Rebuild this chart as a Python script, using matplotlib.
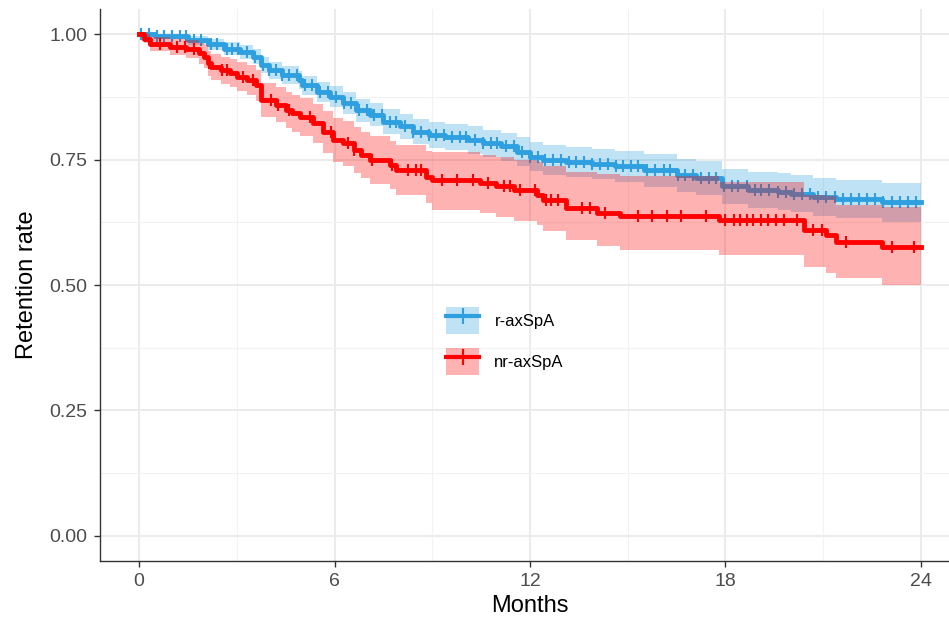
import matplotlib.pyplot as plt
from matplotlib.patches import Patch
from matplotlib.lines import Line2D
import numpy as np

plt.rcParams['font.family'] = ['Liberation Sans', 'DejaVu Sans']

# Kaplan-Meier steps: time of drop, survival, lower CI, upper CI
r_time = [0, 0.5, 1.5, 2.1, 2.6, 3.1, 3.5, 3.75, 4.0, 4.4, 4.9, 5.0, 5.45, 5.85, 6.25, 6.65,
          7.1, 7.5, 8.0, 8.4, 8.9, 9.4, 10.1, 10.55, 11.1, 11.6, 12.0, 12.4, 13.1, 13.9, 14.6,
          15.5, 16.5, 17.1, 17.9, 18.7, 19.6, 20.0, 20.7, 21.4, 22.8, 24.0]
r_surv = [1.000, 0.996, 0.988, 0.980, 0.971, 0.965, 0.955, 0.938, 0.928, 0.918, 0.908, 0.898,
          0.885, 0.875, 0.862, 0.848, 0.839, 0.825, 0.816, 0.805, 0.799, 0.795, 0.789, 0.782,
          0.776, 0.766, 0.756, 0.749, 0.746, 0.742, 0.737, 0.729, 0.719, 0.713, 0.697, 0.690,
          0.686, 0.682, 0.675, 0.671, 0.665, 0.665]
r_lower = [1.000, 0.990, 0.979, 0.969, 0.958, 0.951, 0.940, 0.922, 0.911, 0.900, 0.890, 0.879,
           0.865, 0.854, 0.840, 0.825, 0.816, 0.801, 0.791, 0.780, 0.773, 0.769, 0.762, 0.755,
           0.748, 0.738, 0.728, 0.720, 0.716, 0.711, 0.705, 0.696, 0.685, 0.679, 0.662, 0.654,
           0.649, 0.645, 0.637, 0.633, 0.626, 0.626]
r_upper = [1.000, 1.000, 0.997, 0.991, 0.984, 0.979, 0.970, 0.955, 0.945, 0.936, 0.926, 0.917,
           0.905, 0.896, 0.884, 0.871, 0.863, 0.850, 0.841, 0.831, 0.825, 0.821, 0.816, 0.809,
           0.803, 0.794, 0.785, 0.778, 0.775, 0.772, 0.768, 0.761, 0.752, 0.747, 0.732, 0.726,
           0.723, 0.719, 0.713, 0.709, 0.704, 0.704]

nr_time = [0, 0.15, 0.35, 0.95, 1.45, 1.85, 2.0, 2.1, 2.2, 2.5, 2.8, 3.0, 3.3, 3.6, 3.75, 4.2,
           4.5, 4.7, 4.95, 5.35, 5.65, 5.95, 6.25, 6.6, 6.8, 7.1, 7.7, 7.9, 8.8, 9.0, 10.45,
           10.95, 11.5, 12.2, 12.4, 13.1, 14.05, 14.75, 17.8, 20.4, 21.1, 21.4, 22.8, 24.0]
nr_surv = [1.000, 0.991, 0.981, 0.975, 0.971, 0.962, 0.955, 0.942, 0.935, 0.928, 0.922, 0.915,
           0.908, 0.898, 0.868, 0.859, 0.848, 0.842, 0.835, 0.822, 0.805, 0.789, 0.782, 0.769,
           0.759, 0.749, 0.739, 0.729, 0.716, 0.709, 0.703, 0.697, 0.689, 0.679, 0.669, 0.653,
           0.644, 0.637, 0.629, 0.610, 0.600, 0.586, 0.576, 0.576]
nr_lower = [1.000, 0.982, 0.967, 0.958, 0.953, 0.941, 0.932, 0.917, 0.909, 0.901, 0.894, 0.886,
            0.878, 0.867, 0.834, 0.824, 0.812, 0.805, 0.797, 0.783, 0.764, 0.746, 0.738, 0.724,
            0.713, 0.702, 0.691, 0.680, 0.664, 0.650, 0.643, 0.636, 0.628, 0.620, 0.608, 0.590,
            0.578, 0.570, 0.560, 0.536, 0.524, 0.514, 0.500, 0.500]
nr_upper = [1.000, 1.000, 0.995, 0.991, 0.989, 0.983, 0.978, 0.967, 0.961, 0.955, 0.950, 0.944,
            0.938, 0.929, 0.902, 0.894, 0.884, 0.879, 0.873, 0.861, 0.846, 0.832, 0.826, 0.814,
            0.805, 0.796, 0.787, 0.778, 0.768, 0.765, 0.760, 0.755, 0.750, 0.745, 0.737, 0.725,
            0.722, 0.718, 0.705, 0.680, 0.678, 0.660, 0.655, 0.655]

# censoring times (tick marks)
r_cens = [0.05, 0.3, 0.55, 0.75, 1.0, 1.25, 1.45, 1.7, 1.9, 2.2, 2.4, 2.7, 2.85, 3.05, 3.3,
          3.55, 3.8, 4.0, 4.2, 4.4, 4.6, 4.85, 5.1, 5.3, 5.55, 5.8, 6.05, 6.3, 6.5, 6.75, 7.0,
          7.2, 7.45, 7.7, 7.9, 8.15, 8.4, 8.65, 8.9, 9.1, 9.35, 9.6, 9.85, 10.05, 10.3, 10.55,
          10.8, 11.0, 11.25, 11.5, 11.75, 12.0, 12.25, 12.45, 12.7, 12.95, 13.2, 13.4, 13.65,
          13.9, 14.15, 14.4, 14.65, 14.85, 15.1, 15.3, 15.6, 15.85, 16.1, 16.3, 16.55, 16.75,
          17.0, 17.25, 17.5, 17.7, 17.95, 18.2, 18.4, 18.65, 18.9, 19.1, 19.35, 19.6, 19.85,
          20.1, 20.35, 20.6, 20.85, 21.1, 21.35, 21.6, 21.85, 22.1, 22.35, 22.6, 22.85, 23.1,
          23.35, 23.6, 23.85]
nr_cens = [0.65, 1.15, 1.4, 1.7, 2.15, 2.55, 2.7, 3.2, 3.5, 4.05, 4.25, 4.6, 5.25, 5.9, 6.4,
           6.6, 7.15, 7.75, 8.25, 8.5, 8.65, 9.3, 9.75, 10.25, 10.7, 11.2, 11.4, 11.7, 12.15,
           12.5, 12.65, 12.85, 13.6, 13.85, 14.3, 15.3, 15.75, 16.2, 16.65, 17.4, 18.0, 18.25,
           18.45, 18.65, 18.85, 19.1, 19.3, 19.55, 19.8, 20.2, 20.7, 20.95, 21.7, 23.1, 23.8]

labels = ['r-axSpA', 'nr-axSpA']
colors = ['#2E9FDF', '#FF0000']

fig = plt.figure(figsize=(9.49, 6.19), dpi=100)
ax = fig.add_axes([100 / 949, 58 / 619, 860 / 949, 552 / 619])

groups = [(r_time, r_surv, r_lower, r_upper, r_cens),
          (nr_time, nr_surv, nr_lower, nr_upper, nr_cens)]
handles = []
for i, (t, s, lo, hi, cens) in enumerate(groups):
    c = colors[i]
    z = 1 + 2 * i
    ax.fill_between(t, lo, hi, step='post', color=c, alpha=0.3, lw=0, zorder=z)
    ax.plot(t, s, drawstyle='steps-post', color=c, lw=3.5, zorder=z + 0.5)
    idx = np.searchsorted(t, cens, side='right') - 1
    ax.plot(cens, np.array(s)[idx], ls='none', marker='|', ms=9, mew=1.5,
            color=c, zorder=z + 0.6)
    handles.append((Patch(facecolor=c, alpha=0.3, lw=0),
                    Line2D([], [], color=c, lw=3, marker='|', ms=12, mew=1.5)))

ax.set_xlim(-1.2, 25.2)
ax.set_ylim(-0.05, 1.05)
ax.set_xticks([0, 6, 12, 18, 24])
ax.set_xticks([3, 9, 15, 21], minor=True)
ax.set_yticks([0, 0.25, 0.5, 0.75, 1.0])
ax.set_yticks([0.125, 0.375, 0.625, 0.875], minor=True)
ax.set_yticklabels(['0.00', '0.25', '0.50', '0.75', '1.00'])
ax.grid(which='major', color='#EBEBEB', lw=1.4, zorder=0)
ax.grid(which='minor', color='#F2F2F2', lw=0.8, zorder=0)
ax.set_axisbelow(True)
ax.tick_params(which='major', length=4, width=1, color='#333333', labelsize=14,
               labelcolor='#4D4D4D', pad=5)
ax.tick_params(which='minor', length=0)
for side in ['top', 'right']:
    ax.spines[side].set_visible(False)
for side in ['left', 'bottom']:
    ax.spines[side].set_color('#333333')
    ax.spines[side].set_linewidth(1)

ax.set_xlabel('Months', fontsize=17, labelpad=3)
ax.set_ylabel('Retention rate', fontsize=17, labelpad=8)

ax.legend(handles, labels, loc='center', bbox_to_anchor=(505 / 949, 1 - 341 / 619),
          bbox_transform=fig.transFigure, frameon=False, fontsize=12,
          handlelength=2.0, handleheight=2.1, labelspacing=0.85, handletextpad=0.9)

fig.savefig('out.png', dpi=100)
